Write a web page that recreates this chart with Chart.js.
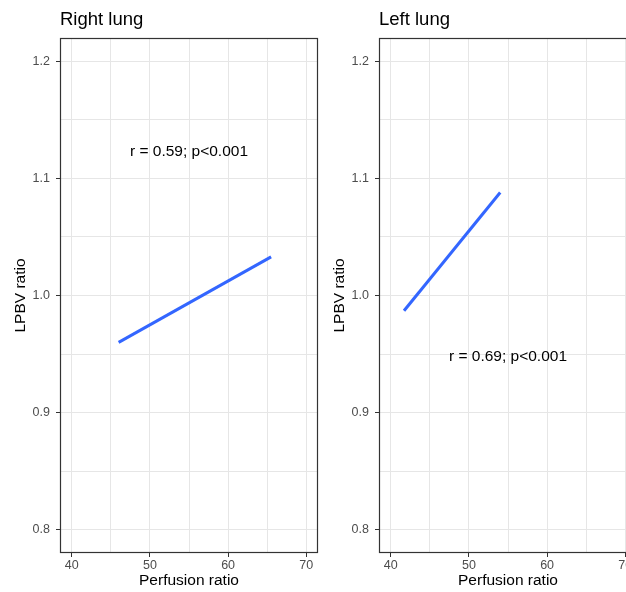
<!DOCTYPE html>
<html>
<head>
<meta charset="utf-8">
<script src="https://cdn.jsdelivr.net/npm/chart.js@4/dist/chart.umd.min.js"></script>
<style>
  html, body { margin: 0; padding: 0; background: #ffffff; overflow: hidden; }
  #wrap { position: relative; width: 626px; height: 592px; overflow: hidden; background: #ffffff; }
  canvas { position: absolute; top: 0; }
  #c1 { left: 0px; }
  #c2 { left: 319px; }
</style>
</head>
<body>
<div id="wrap">
  <canvas id="c1" width="330" height="592"></canvas>
  <canvas id="c2" width="330" height="592"></canvas>
</div>
<script>
// ---- data ----
const panelTitles = ['Right lung', 'Left lung'];
const xAxisTitle = 'Perfusion ratio';
const yAxisTitle = 'LPBV ratio';

const xTickValues = [40, 45, 50, 55, 60, 65, 70];
const yTickValues = [0.8, 0.85, 0.9, 0.95, 1.0, 1.05, 1.1, 1.15, 1.2];

// fitted regression lines (endpoints)
const rightLungX = [46.0, 65.5];
const rightLungY = [0.960, 1.033];
const leftLungX = [41.7, 54.0];
const leftLungY = [0.987, 1.088];

// correlation annotations
const rightLabel = 'r = 0.59; p<0.001';
const rightLabelX = 55;
const rightLabelY = 1.123;
const leftLabel = 'r = 0.69; p<0.001';
const leftLabelX = 55;
const leftLabelY = 0.948;

// ---- chart building ----
const FONT = 'Arial, "Liberation Sans", sans-serif';

const boxPlugin = {
  id: 'panelBox',
  afterDraw(chart) {
    const a = chart.chartArea;
    const ctx = chart.ctx;
    ctx.save();
    ctx.strokeStyle = '#333333';
    ctx.lineWidth = 1.2;
    ctx.strokeRect(Math.round(a.left) + 0.5, Math.round(a.top) + 0.5,
                   Math.round(a.right - a.left) - 1, Math.round(a.bottom - a.top) - 1);
    ctx.restore();
  }
};

const labelPlugin = {
  id: 'corrLabel',
  afterDatasetsDraw(chart) {
    const o = chart.options.plugins.corrLabel;
    const xs = chart.scales.x, ys = chart.scales.y;
    const ctx = chart.ctx;
    ctx.save();
    ctx.font = '15.5px ' + FONT;
    ctx.fillStyle = '#000000';
    ctx.textAlign = 'center';
    ctx.textBaseline = 'middle';
    ctx.fillText(o.text, xs.getPixelForValue(o.x), ys.getPixelForValue(o.y));
    ctx.restore();
  }
};

function makePanel(canvasId, title, xs, ys, label, lx, ly) {
  const pts = xs.map((x, i) => ({ x: x, y: ys[i] }));
  return new Chart(document.getElementById(canvasId), {
    type: 'scatter',
    data: {
      datasets: [{
        data: pts,
        showLine: true,
        borderColor: '#3366FF',
        borderWidth: 3,
        pointRadius: 0,
        fill: false
      }]
    },
    options: {
      responsive: false,
      animation: false,
      devicePixelRatio: 1,
      layout: { padding: { left: 0, right: 12, top: 0, bottom: 0 } },
      plugins: {
        legend: { display: false },
        tooltip: { enabled: false },
        title: {
          display: true,
          text: title,
          align: 'start',
          fullSize: false,
          color: '#000000',
          font: { family: FONT, size: 18.5, weight: 'normal' },
          padding: { top: 9.2, bottom: 6.6 }
        },
        corrLabel: { text: label, x: lx, y: ly }
      },
      scales: {
        x: {
          type: 'linear',
          min: 38.5,
          max: 71.5,
          afterBuildTicks: (s) => { s.ticks = xTickValues.map(v => ({ value: v })); },
          afterFit: (s) => { s.height = 39; },
          border: { display: false },
          grid: {
            color: '#e6e6e6',
            lineWidth: 1,
            drawTicks: true,
            tickLength: 4,
            tickColor: (c) => (c.index % 2 === 0 ? '#333333' : 'rgba(0,0,0,0)')
          },
          ticks: {
            autoSkip: false,
            maxRotation: 0,
            padding: 1,
            color: '#4d4d4d',
            font: { family: FONT, size: 12.5 },
            callback: (v) => (Math.round(v) % 10 === 0 ? String(Math.round(v)) : '')
          },
          title: {
            display: true,
            text: xAxisTitle,
            color: '#000000',
            font: { family: FONT, size: 15.5 },
            padding: { top: 0, bottom: 2.1 }
          }
        },
        y: {
          type: 'linear',
          min: 0.78,
          max: 1.22,
          afterBuildTicks: (s) => { s.ticks = yTickValues.map(v => ({ value: v })); },
          afterFit: (s) => { s.width = 60; },
          border: { display: false },
          grid: {
            color: '#e6e6e6',
            lineWidth: 1,
            drawTicks: true,
            tickLength: 4,
            tickColor: (c) => (c.index % 2 === 0 ? '#333333' : 'rgba(0,0,0,0)')
          },
          ticks: {
            autoSkip: false,
            padding: 6,
            color: '#4d4d4d',
            font: { family: FONT, size: 12.5 },
            callback: (v) => (Math.round(v * 100) % 10 === 0 ? Number(v).toFixed(1) : '')
          },
          title: {
            display: true,
            text: yAxisTitle,
            color: '#000000',
            font: { family: FONT, size: 15.5 },
            padding: { top: 11.3, bottom: 0 }
          }
        }
      }
    },
    plugins: [boxPlugin, labelPlugin]
  });
}

makePanel('c1', panelTitles[0], rightLungX, rightLungY, rightLabel, rightLabelX, rightLabelY);
makePanel('c2', panelTitles[1], leftLungX, leftLungY, leftLabel, leftLabelX, leftLabelY);
</script>
</body>
</html>
